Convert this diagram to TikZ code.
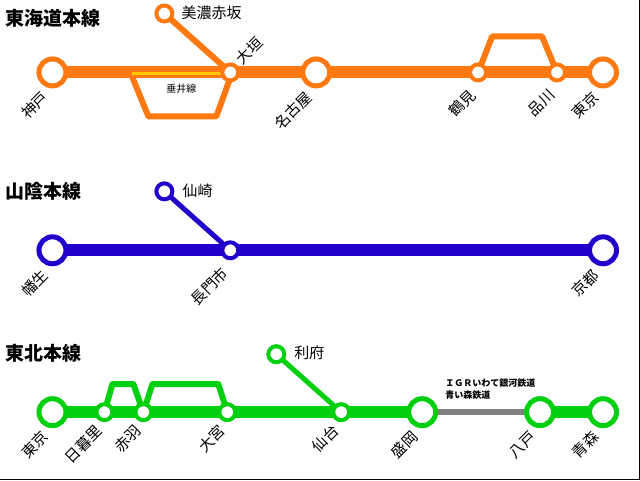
\documentclass[tikz,border=0pt]{standalone}
\usepackage{fontspec}
\setmainfont{Noto Sans CJK JP}
\begin{document}
\begin{tikzpicture}[x=1pt,y=-1pt,
  big/.style={circle,draw=#1,fill=white,line width=5pt,minimum size=27pt,inner sep=0pt},
  small/.style={circle,draw=#1,fill=white,line width=4pt,minimum size=16pt,inner sep=0pt},
  main/.style={draw=#1,line width=12pt},
  sub/.style={draw=#1,line width=6pt,line join=round},
  lab/.style={font=\fontsize{15}{15}\selectfont,rotate=45,anchor=east,inner sep=0pt},
  ttl/.style={font=\fontsize{19}{19}\selectfont\bfseries,anchor=west,inner sep=0pt}]
\definecolor{og}{RGB}{255,120,16}
\definecolor{bl}{RGB}{34,0,204}
\definecolor{gr}{RGB}{0,208,16}
\definecolor{yl}{RGB}{255,200,0}
\path[fill=white] (0,0) rectangle (640,480);
\draw[line width=1pt] (639.5,0) -- (639.5,479.5) -- (0,479.5);
% Tokaido
\node[ttl] (t1) at (5,18) {東海道本線};
\draw[sub=og] (130,72) -- (148,116) -- (216,116) -- (229,80);
\draw[sub=og] (478,72) -- (492,36) -- (542,36) -- (557,72);
\draw[sub=og] (164,13) -- (230,72);
\draw[main=og] (52,72) -- (603,72);
\draw[yl,line width=3pt] (132,73.5) -- (222,73.5);
\node[big=og] (kobe) at (52,72) {};
\node[small=og] (ogaki) at (230,72) {};
\node[big=og] (nagoya) at (316,72) {};
\node[small=og] (tsurumi) at (478,72) {};
\node[small=og] (shinagawa) at (557,72) {};
\node[big=og] (tokyo1) at (603,72) {};
\node[small=og] (mino) at (164,13) {};
\node[anchor=west,inner sep=0pt,font=\fontsize{15}{15}\selectfont] (minol) at (181,12) {美濃赤坂};
\node[font=\fontsize{10}{10}\selectfont] (tarui) at (181,88) {垂井線};
\node[lab] at (45,94) {神戸};
\node[lab,anchor=west] at (238,61) {大垣};
\node[lab] at (309,94) {名古屋};
\node[lab] at (473,92) {鶴見};
\node[lab] at (552,92) {品川};
\node[lab] at (596,94) {東京};
% Sanin
\node[ttl] (t2) at (5,191) {山陰本線};
\draw[line width=5pt,bl] (164,191) -- (230,250);
\draw[main=bl] (52,250) -- (603,250);
\node[big=bl] (hatabu) at (52,250) {};
\node[small=bl] (nagato) at (230,250) {};
\node[big=bl] (kyoto) at (603,250) {};
\node[small=bl] (senzaki) at (164,191) {};
\node[anchor=west,inner sep=0pt,font=\fontsize{15}{15}\selectfont] at (182,190) {仙崎};
\node[lab] at (45,272) {幡生};
\node[lab] at (225,270) {長門市};
\node[lab] at (596,272) {京都};
% Tohoku
\node[ttl] (t3) at (5,353) {東北本線};
\draw[sub=gr] (104,412) -- (112,384) -- (133,384) -- (143,412);
\draw[sub=gr] (143,412) -- (152,384) -- (218,384) -- (227,412);
\draw[line width=5pt,gr] (276,354) -- (341,412);
\draw[main=gr] (52,412) -- (422,412);
\draw[main=gr] (540,412) -- (603,412);
\draw[line width=6pt,gray] (422,412) -- (540,412);
\node[big=gr] (tokyo2) at (52,412) {};
\node[small=gr] (nippori) at (104,412) {};
\node[small=gr] (akabane) at (143,412) {};
\node[small=gr] (omiya) at (227,412) {};
\node[small=gr] (sendai) at (341,412) {};
\node[big=gr] (morioka) at (422,412) {};
\node[big=gr] (hachinohe) at (540,412) {};
\node[big=gr] (aomori) at (603,412) {};
\node[small=gr] (rifu) at (276,354) {};
\node[anchor=west,inner sep=0pt,font=\fontsize{15}{15}\selectfont] at (294,353) {利府};
\node[anchor=west,inner sep=0pt,font=\fontsize{9}{9}\selectfont\bfseries] at (445,383) {ＩＧＲいわて銀河鉄道};
\node[anchor=west,inner sep=0pt,font=\fontsize{9}{9}\selectfont\bfseries] at (445,395) {青い森鉄道};
\node[lab] at (45,434) {東京};
\node[lab] at (99,428) {日暮里};
\node[lab] at (138,428) {赤羽};
\node[lab] at (222,428) {大宮};
\node[lab] at (336,428) {仙台};
\node[lab] at (415,434) {盛岡};
\node[lab] at (533,434) {八戸};
\node[lab] at (596,434) {青森};
\end{tikzpicture}
\end{document}
